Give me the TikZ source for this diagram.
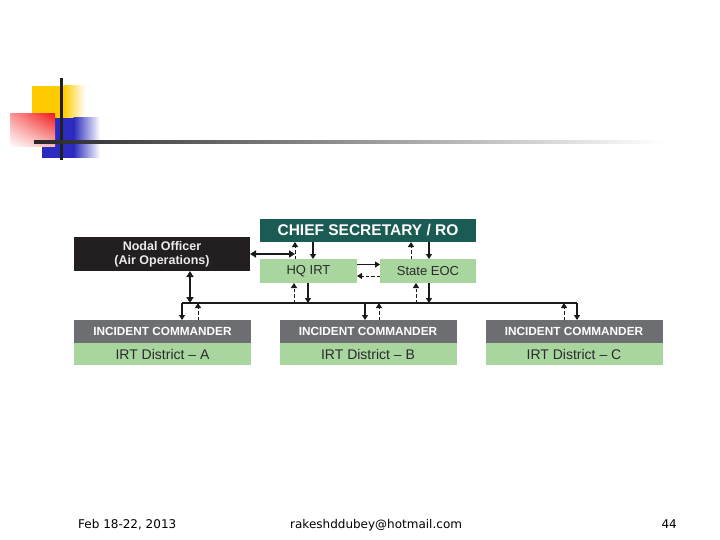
\documentclass[tikz,border=0pt]{standalone}
\usepackage{fontspec}
\setmainfont{Liberation Sans}
\newfontfamily\footfont{DejaVu Sans}
\usetikzlibrary{arrows.meta,shadings}
\definecolor{chiefteal}{HTML}{1A5C53}
\definecolor{nodalblack}{HTML}{231F20}
\definecolor{boxgreen}{HTML}{A9D59F}
\definecolor{headgray}{HTML}{6D6E71}
\definecolor{textdark}{HTML}{2B2B2B}
\definecolor{linedark}{HTML}{1A1A1A}
\definecolor{decoyellow}{HTML}{FFCC00}
\definecolor{decored}{HTML}{F21C1C}
\definecolor{decoblue}{HTML}{2B2BBF}
\begin{document}
\begin{tikzpicture}[x=1pt,y=-1pt,
  >={Triangle[length=5pt,width=6pt]},
  boxbase/.style={inner sep=0pt, outer sep=0pt, draw=none, anchor=center},
  chiefbox/.style={boxbase, fill=chiefteal, minimum width=216pt, minimum height=23pt,
    text=white, font=\fontsize{15.5}{18}\selectfont\bfseries},
  nodalbox/.style={boxbase, fill=nodalblack, minimum width=176pt, minimum height=34pt,
    text=black!8, align=center, font=\fontsize{12.5}{14}\selectfont\bfseries},
  greenbox/.style={boxbase, fill=boxgreen, minimum width=97pt, minimum height=24pt,
    text=textdark, font=\fontsize{13}{15}\selectfont},
  headbox/.style={boxbase, fill=headgray, minimum width=177pt, minimum height=23pt,
    text=white, font=\fontsize{11.8}{14}\selectfont\bfseries},
  distbox/.style={boxbase, fill=boxgreen, minimum width=177pt, minimum height=22pt,
    text=textdark, font=\fontsize{14}{16}\selectfont},
  solidarr/.style={->, draw=linedark, line width=1.4pt},
  dasharr/.style={->, draw=linedark, line width=1pt, dash pattern=on 3.5pt off 2pt},
  dblarr/.style={{Triangle[length=6pt,width=7pt]}-{Triangle[length=6pt,width=7pt]}, draw=linedark, line width=1.9pt},
  busline/.style={draw=linedark, line width=1.1pt},
  foottext/.style={inner sep=0pt, text=black, font=\footfont\fontsize{12}{14}\selectfont}
]
\useasboundingbox (0,0) rectangle (720,540);
\fill[white] (0,0) rectangle (720,540);

% --- corner decoration ---
\fill[decoyellow] (32,86) rectangle (64,120);
\shade[left color=decoyellow, right color=white] (63.5,86) rectangle (85,120);
\fill[decoblue] (42,118) rectangle (74,158);
\shade[left color=decoblue, right color=white] (73.5,118) rectangle (100,158);
\shade[upper right=decored, upper left=decored!45!white, lower right=decored!30!white, lower left=white]
  (10,114) rectangle (55,147);
\draw[line width=3pt, color=black!88] (61.7,78) -- (61.7,160);
\shade[left color=black!85, right color=white] (34,140.3) rectangle (665,143.1);

% --- nodes ---
\node[chiefbox] (chief) at (368,230.5) {CHIEF SECRETARY / RO};
\node[nodalbox] (nodal) at (162,254) {Nodal Officer\\(Air Operations)};
\node[greenbox] (hq) at (308.5,271) {HQ IRT};
\node[greenbox, minimum width=96pt] (eoc) at (428,271) {State EOC};

\node[headbox] (icA) at (162.5,331.5) {INCIDENT COMMANDER};
\node[distbox] (dA) at (162.5,354) {IRT District -- A};
\node[headbox] (icB) at (368,331.5) {INCIDENT COMMANDER};
\node[distbox] (dB) at (368,354) {IRT District -- B};
\node[headbox] (icC) at (574,331.5) {INCIDENT COMMANDER};
\node[distbox] (dC) at (574,354) {IRT District -- C};

\coordinate (busL) at (182,303);
\coordinate (busR) at (577,303);
\coordinate (nodalTip) at (295,0 |- nodal.east);

% --- bus ---
\draw[busline] (busL) -- (busR);

% --- upper connectors ---
\draw[dblarr] (nodal.east) -- (nodalTip);
\draw[dasharr] (295,0 |- hq.north) -- (295,0 |- chief.south);
\draw[solidarr] (313,0 |- chief.south) -- (313,0 |- hq.north);
\draw[dasharr] (411,0 |- eoc.north) -- (411,0 |- chief.south);
\draw[solidarr] (429,0 |- chief.south) -- (429,0 |- eoc.north);
\draw[solidarr] (hq.east |- 0,264.5) -- (eoc.west |- 0,264.5);
\draw[dasharr] (eoc.west |- 0,276) -- (hq.east |- 0,276);

% --- to the bus ---
\draw[dasharr] (294,0 |- busL) -- (294,0 |- hq.south);
\draw[solidarr] (308,0 |- hq.south) -- (308,0 |- busL);
\draw[dasharr] (416,0 |- busL) -- (416,0 |- eoc.south);
\draw[solidarr] (429,0 |- eoc.south) -- (429,0 |- busL);
\draw[dblarr] (190,0 |- nodal.south) -- (190,0 |- busL);

% --- to districts ---
\draw[solidarr] (busL) -- (busL |- icA.north);
\draw[dasharr] (198,0 |- icA.north) -- (198,0 |- busL);
\draw[solidarr] (365,0 |- busL) -- (365,0 |- icB.north);
\draw[dasharr] (379,0 |- icB.north) -- (379,0 |- busL);
\draw[dasharr] (564,0 |- icC.north) -- (564,0 |- busL);
\draw[solidarr] (busR) -- (busR |- icC.north);

% --- footer ---
\node[foottext, anchor=base west] (fdate) at (78,528) {Feb 18-22, 2013};
\node[foottext, anchor=base west] (fmail) at (290,528) {rakeshddubey@hotmail.com};
\node[foottext, anchor=base east] (fpage) at (677,528) {44};
\end{tikzpicture}
\end{document}
